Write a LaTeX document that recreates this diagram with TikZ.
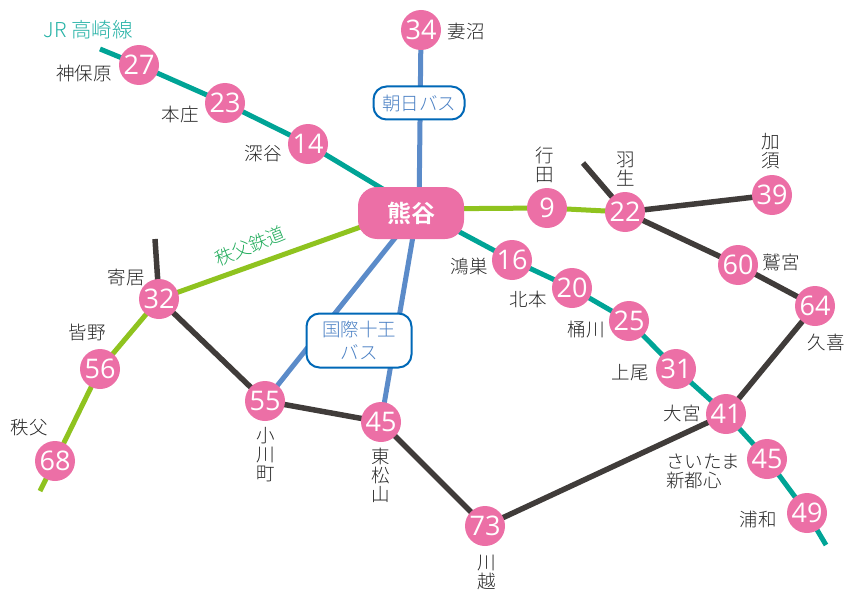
\documentclass[tikz,border=0pt]{standalone}
\usepackage{fontspec}
\setmainfont{Noto Sans CJK JP}[UprightFont=* Light,BoldFont=* Bold]
\newfontfamily\numfont{Open Sans}
\usetikzlibrary{backgrounds}
\definecolor{pinkc}{HTML}{EC6FA6}
\definecolor{tealc}{HTML}{00A496}
\definecolor{greenc}{HTML}{8FC31F}
\definecolor{bluec}{HTML}{5B8BC9}
\definecolor{bustext}{HTML}{4A80C4}
\definecolor{darkc}{HTML}{403C3A}
\definecolor{boxc}{HTML}{0068B7}
\definecolor{chichic}{HTML}{22AC5C}
\tikzset{
 stn/.style={circle,fill=pinkc,minimum size=40pt,inner sep=0pt,text=white,font=\numfont\fontsize{27}{27}\selectfont},
 lbl/.style={text=black!85,font=\fontsize{18.5}{19}\selectfont,inner sep=0pt,align=center},
 lbll/.style={lbl,align=left},
 busbox/.style={draw=boxc,line width=2pt,fill=white,rounded corners=13pt,text=bustext,font=\fontsize{18.5}{23}\selectfont,align=center,inner sep=0pt},
 teal/.style={draw=tealc,line width=5pt},
 green/.style={draw=greenc,line width=5pt},
 blue/.style={draw=bluec,line width=5pt},
 dark/.style={draw=darkc,line width=5.5pt},
}
\begin{document}
\begin{tikzpicture}[x=1pt,y=-1pt]
\useasboundingbox (0,0) rectangle (845,591);
% hub
\node[fill=pinkc,rounded corners=19pt,minimum width=106pt,minimum height=52pt,inner sep=0pt,text=white,font=\bfseries\fontsize{24}{24}\selectfont] (hub) at (411,213) {熊谷};
% stations
\node[stn] (s27) at (139,65) {27};
\node[stn] (s23) at (225,103) {23};
\node[stn] (s14) at (308,144) {14};
\node[stn] (s34) at (421,30) {34};
\node[stn] (s9) at (547,208) {9};
\node[stn] (s22) at (625,212) {22};
\node[stn] (s39) at (772,195) {39};
\node[stn] (s60) at (738,265) {60};
\node[stn] (s64) at (815,306) {64};
\node[stn] (s16) at (512,260) {16};
\node[stn] (s20) at (572,288) {20};
\node[stn] (s25) at (629,321) {25};
\node[stn] (s31) at (676,369) {31};
\node[stn] (s41) at (726,414) {41};
\node[stn] (s45b) at (767,459) {45};
\node[stn] (s49) at (807,513) {49};
\node[stn] (s32) at (159,299) {32};
\node[stn] (s56) at (100,369) {56};
\node[stn] (s68) at (55,461) {68};
\node[stn] (s55) at (265,401) {55};
\node[stn] (s45a) at (381,422) {45};
\node[stn] (s73) at (485,526) {73};
% bus boxes
\node[busbox,minimum width=91pt,minimum height=33pt] (busa) at (419,103) {朝日バス};
\node[busbox,minimum width=105pt,minimum height=54pt] (busk) at (359,340.5) {国際十王\\バス};
% free ends
\coordinate (jrstart) at (100,49);
\coordinate (jrend) at (826,545);
\coordinate (chichiend) at (40,491);
\coordinate (hanyu) at (583,163);
\coordinate (yorii) at (155,239);
\coordinate (hubk) at (415,213);
\coordinate (hubt) at (417,213);
\coordinate (hubn) at (419,213);
\coordinate (hubj) at (411,206);
\coordinate (hubg) at (411,209);
\begin{scope}[on background layer]
\draw[teal] (jrstart) -- (s27.center) -- (s23.center) -- (s14.center) -- (hubj) -- (s16.center) -- (s20.center) -- (s25.center) -- (s31.center) -- (s41.center) -- (s45b.center) -- (s49.center) -- (jrend);
\draw[green] (hubg) -- (s9.center) -- (s22.center);
\draw[green] (hubg) -- (s32.center) -- (s56.center) -- (s68.center) -- (chichiend);
\draw[blue] (s34.center) -- (hubn);
\draw[blue] (hubk) -- (s55.center);
\draw[blue] (hubt) -- (s45a.center);
\draw[dark] (hanyu) -- (s22.center) -- (s39.center);
\draw[dark] (s22.center) -- (s60.center) -- (s64.center) -- (s41.center) -- (s73.center) -- (s45a.center) -- (s55.center) -- (s32.center) -- (yorii);
\end{scope}
% labels
\node[lbl,text=tealc!85!white,font=\fontsize{20.5}{20}\selectfont] (ljr) at (88,30) {JR 高崎線};
\node[lbl] (l27) at (84,73) {神保原};
\node[lbl] (l23) at (180,114) {本庄};
\node[lbl] (l14) at (263,154) {深谷};
\node[lbl] (l34) at (466,31) {妻沼};
\node[lbl] (l9) at (545,165) {行\\田};
\node[lbl] (l22) at (626,169) {羽\\生};
\node[lbl] (l39) at (771,151) {加\\須};
\node[lbl] (l60) at (781,262) {鷲宮};
\node[lbl] (l64) at (826,342) {久喜};
\node[lbl] (l16) at (469,266) {鴻巣};
\node[lbl] (l20) at (528,299) {北本};
\node[lbl] (l25) at (586,330) {桶川};
\node[lbl] (l31) at (630,373) {上尾};
\node[lbl] (l41) at (682,413) {大宮};
\node[lbl,lbll] (l45b) at (703,471) {さいたま\\新都心};
\node[lbl] (l49) at (758,519) {浦和};
\node[lbl] (l32) at (126,277) {寄居};
\node[lbl] (l56) at (87,332) {皆野};
\node[lbl] (l68) at (29,428) {秩父};
\node[lbl] (l55) at (266,455) {小\\川\\町};
\node[lbl] (l45a) at (381,475) {東\\松\\山};
\node[lbl] (l73) at (487,572) {川\\越};
\node[lbl,text=chichic,font=\fontsize{18.5}{18.5}\selectfont,rotate=22] (lchichi) at (250,246) {秩父鉄道};
\end{tikzpicture}
\end{document}
